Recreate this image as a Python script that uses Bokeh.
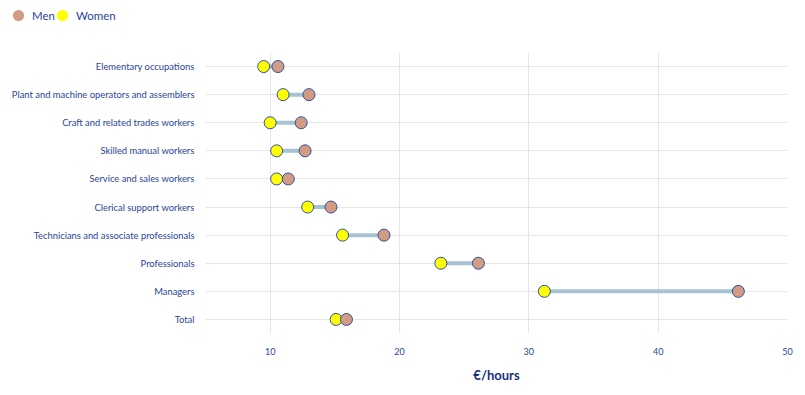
from bokeh.plotting import figure
from bokeh.layouts import column
from bokeh.models import ColumnDataSource, Legend, LegendItem, FixedTicker
from bokeh.embed import file_html
from bokeh.resources import INLINE

categories = [
    "Elementary occupations",
    "Plant and machine operators and assemblers",
    "Craft and related trades workers",
    "Skilled manual workers",
    "Service and sales workers",
    "Clerical support workers",
    "Technicians and associate professionals",
    "Professionals",
    "Managers",
    "Total",
]
men = [10.6, 13.0, 12.4, 12.7, 11.4, 14.7, 18.8, 26.1, 46.2, 15.9]
women = [9.5, 11.0, 10.0, 10.5, 10.5, 12.9, 15.6, 23.2, 31.2, 15.1]
x_ticks = [10, 20, 30, 40, 50]
series_names = ["Men", "Women"]

FONT = "Lato"
TXT = "#2a4597"
MEN_C = "#d19c82"
WOMEN_C = "#ffff00"
NAN = float("nan")

# ---- legend strip ----
lg = figure(width=797, height=34, x_range=(0, 1), y_range=(0, 1),
            output_backend="svg", toolbar_location=None,
            x_axis_location=None, y_axis_location=None, min_border=0)
lg.frame_align = False
lg.outline_line_color = None
lg.xgrid.visible = False
lg.ygrid.visible = False
lm = lg.scatter(x=[NAN], y=[NAN], size=13, fill_color=MEN_C, line_color=None)
lw = lg.scatter(x=[NAN], y=[NAN], size=13, fill_color=WOMEN_C, line_color=None)


def make_legend(label, rend, loc):
    return Legend(items=[LegendItem(label=label, renderers=[rend])],
                  orientation="horizontal", location=loc,
                  padding=0, margin=0, spacing=0, glyph_width=28, glyph_height=28,
                  label_standoff=0, label_text_font=FONT, label_text_font_size="11.5px",
                  label_text_color=TXT, border_line_color=None, background_fill_alpha=0)


lg.add_layout(make_legend(series_names[0], lm, (4, 5)), "center")
lg.add_layout(make_legend(series_names[1], lw, (48, 5)), "center")

# ---- main chart ----
src = ColumnDataSource(dict(cat=categories, men=men, women=women))

p = figure(width=797, height=356, x_range=(5, 50), y_range=list(reversed(categories)),
           output_backend="svg", toolbar_location=None,
           min_border_left=205, min_border_right=10, min_border_top=18, min_border_bottom=57)
p.frame_align = False
p.outline_line_color = None
p.background_fill_color = "white"

p.segment(x0="women", y0="cat", x1="men", y1="cat", source=src,
          line_width=4, line_color="#a6c3d3")
p.scatter(x="women", y="cat", source=src, size=12, fill_color=WOMEN_C,
          line_color="#2f4fa6", line_width=1)
p.scatter(x="men", y="cat", source=src, size=12, fill_color=MEN_C,
          line_color="#2f4fa6", line_width=1)

p.xaxis.ticker = FixedTicker(ticks=x_ticks)
p.xaxis.axis_line_color = None
p.xaxis.major_tick_line_color = None
p.xaxis.minor_tick_line_color = None
p.xaxis.major_tick_out = 0
p.xaxis.major_tick_in = 0
p.xaxis.major_label_text_font = FONT
p.xaxis.major_label_text_font_size = "9px"
p.xaxis.major_label_text_color = TXT
p.xaxis.major_label_standoff = 14
p.xaxis.axis_label = "€/hours"
p.xaxis.axis_label_text_font = FONT
p.xaxis.axis_label_text_font_size = "13px"
p.xaxis.axis_label_text_font_style = "bold"
p.xaxis.axis_label_text_color = "#17307e"
p.xaxis.axis_label_standoff = 9

p.yaxis.axis_line_color = None
p.yaxis.major_tick_line_color = None
p.yaxis.minor_tick_line_color = None
p.yaxis.major_tick_out = 0
p.yaxis.major_tick_in = 0
p.yaxis.major_label_text_font = FONT
p.yaxis.major_label_text_font_size = "9.4px"
p.yaxis.major_label_text_color = TXT
p.yaxis.major_label_standoff = 11

p.xgrid.grid_line_color = "#e6e6e6"
p.ygrid.grid_line_color = "#e6e6e6"
p.xgrid.grid_line_width = 1
p.ygrid.grid_line_width = 1

page = column(lg, p, spacing=0)
open("out.html", "w").write(file_html(page, INLINE))
